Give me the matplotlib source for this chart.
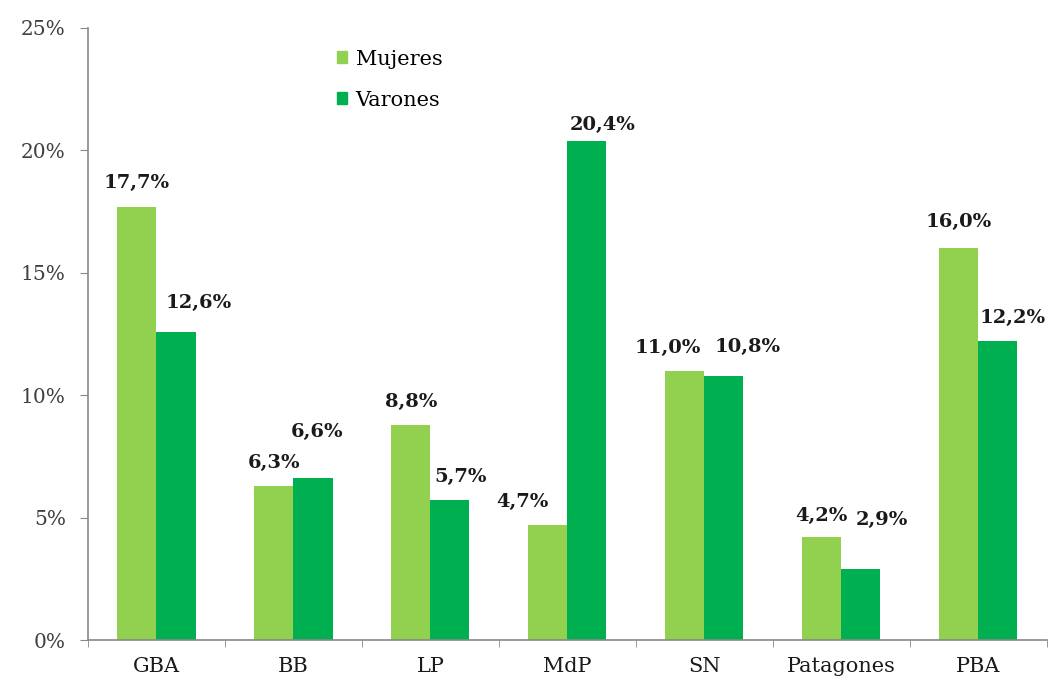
import matplotlib
matplotlib.use("Agg")
import matplotlib.pyplot as plt
from matplotlib.patches import Patch
import numpy as np

categories = ["GBA", "BB", "LP", "MdP", "SN", "Patagones", "PBA"]
mujeres = [17.7, 6.3, 8.8, 4.7, 11.0, 4.2, 16.0]
varones = [12.6, 6.6, 5.7, 20.4, 10.8, 2.9, 12.2]
yticks = [0, 5, 10, 15, 20, 25]

# label offsets in pixels (dx, dy) relative to bar top centre
off_m = [(0, 24), (0, 23), (0, 23), (-25, 23), (-17, 23), (0, 21), (0, 26)]
off_v = [(23, 29), (4, 46), (11, 23), (16, 16), (24, 29), (21, 49), (15, 23)]

c_m = "#92D050"
c_v = "#00B050"

plt.rcParams['font.family'] = ['DejaVu Serif']
fig = plt.figure(figsize=(10.49, 6.81), dpi=100)
ax = fig.add_axes([0.0839, 0.0602, 0.914, 0.8987])

x = np.arange(len(categories))
w = 0.285
b1 = ax.bar(x - w/2, mujeres, w, color=c_m)
b2 = ax.bar(x + w/2, varones, w, color=c_v)

def fmt(v):
    return f"{v:.1f}%".replace(".", ",")

for bars, vals, offs in ((b1, mujeres, off_m), (b2, varones, off_v)):
    for b, v, o in zip(bars, vals, offs):
        ax.annotate(fmt(v), (b.get_x() + b.get_width()/2, v), xytext=o,
                    textcoords='offset pixels', ha='center', va='center',
                    fontsize=14, fontweight='bold', color='#1a1a1a')

ax.set_xlim(-0.5, len(categories) - 0.5)
ax.set_ylim(0, 25)
ax.set_yticks(yticks)
ax.set_yticklabels([f"{t}%" for t in yticks], fontsize=14.5, color='#404040')
ax.set_xticks(x)
ax.set_xticklabels(categories, fontsize=15, color='#1a1a1a')
ax.tick_params(axis='x', length=0, pad=12)
ax.set_xticks(np.arange(-0.5, len(categories)), minor=True)
ax.tick_params(axis='x', which='minor', length=5, color='#888888', direction='out')
ax.tick_params(axis='y', length=6, color='#888888', pad=10)
for s in ('top', 'right'):
    ax.spines[s].set_visible(False)
for s in ('left', 'bottom'):
    ax.spines[s].set_color('#888888')
    ax.spines[s].set_linewidth(1.2)

handles = [Patch(color=c_m, label='Mujeres'), Patch(color=c_v, label='Varones')]
ax.legend(handles=handles, loc='upper left', bbox_to_anchor=(0.24, 0.995),
          frameon=False, handlelength=0.5, handleheight=0.5, handletextpad=0.4,
          labelspacing=1.05, fontsize=15)

fig.savefig("out.png", dpi=100)
